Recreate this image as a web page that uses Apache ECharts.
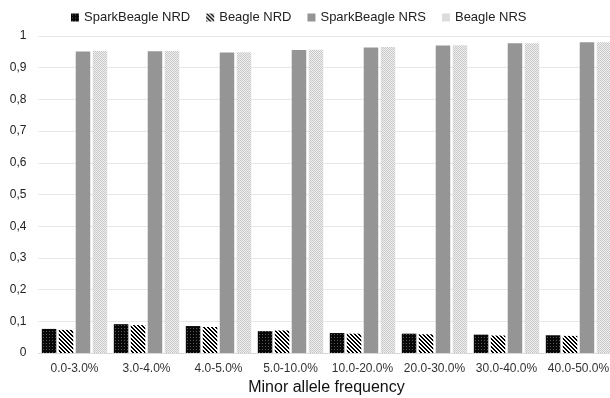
<!DOCTYPE html>
<html><head><meta charset="utf-8">
<script src="https://cdn.jsdelivr.net/npm/echarts@6/dist/echarts.min.js"></script>
<style>html,body{margin:0;padding:0;background:#fff;overflow:hidden}#c{width:610px;height:398px}</style>
</head><body><div id="c"></div>
<script>
const categories = ['0.0-3.0%','3.0-4.0%','4.0-5.0%','5.0-10.0%','10.0-20.0%','20.0-30.0%','30.0-40.0%','40.0-50.0%'];
const sparkNRD = [0.076, 0.091, 0.085, 0.069, 0.063, 0.061, 0.058, 0.056];
const beagleNRD = [0.073, 0.088, 0.082, 0.071, 0.061, 0.059, 0.055, 0.054];
const sparkNRS = [0.951, 0.952, 0.948, 0.956, 0.964, 0.970, 0.977, 0.980];
const beagleNRS = [0.953, 0.953, 0.949, 0.957, 0.965, 0.971, 0.977, 0.980];
const seriesNames = ['SparkBeagle NRD','Beagle NRD','SparkBeagle NRS','Beagle NRS'];

function pat(w, h, fn) {
  const c = document.createElement('canvas'); c.width = w; c.height = h;
  const ctx = c.getContext('2d');
  for (let y = 0; y < h; y++) for (let x = 0; x < w; x++) {
    ctx.fillStyle = fn(x, y); ctx.fillRect(x, y, 1, 1);
  }
  return {image: c, repeat: 'repeat'};
}
const pDark = pat(3, 3, (x, y) => (x === 1 && y === 1) ? '#5a5a5a' : '#080808');
const pHatch = pat(4, 4, (x, y) => (((x - y) % 4 + 4) % 4 < 2) ? '#000' : '#fff');
const pLight = pat(2, 2, (x, y) => ((x + y) % 2 === 0) ? '#c8c8c8' : '#f0f0f0');

const chart = echarts.init(document.getElementById('c'));
const font = 'Liberation Sans, Arial, sans-serif';
function mk(name, data, color) {
  return {name, type: 'bar', data, barWidth: 14.5, barGap: '17%', itemStyle: {color}};
}
chart.setOption({
  animation: false,
  legend: {top: 6, left: 66, itemWidth: 8, itemHeight: 8, itemGap: 16,
    textStyle: {fontSize: 13, color: '#222', fontFamily: font},
    data: seriesNames.map(n => ({name: n, icon: 'rect'}))},
  grid: {left: 38.5, width: 576, top: 36, bottom: 45, containLabel: false, outerBoundsMode: 'none'},
  xAxis: {type: 'category', data: categories,
    name: 'Minor allele frequency', nameLocation: 'middle', nameGap: 26,
    nameTextStyle: {fontSize: 16, color: '#111', fontFamily: font},
    axisLine: {lineStyle: {color: '#d9d9d9'}}, axisTick: {show: false},
    axisLabel: {interval: 0, fontSize: 12, color: '#333', fontFamily: font, margin: 10}},
  yAxis: {type: 'value', min: 0, max: 1, interval: 0.1,
    axisLine: {show: false}, axisTick: {show: false},
    splitLine: {lineStyle: {color: '#e6e6e6'}},
    axisLabel: {fontSize: 12, color: '#222', fontFamily: font, margin: 12,
      formatter: v => String(Math.round(v * 10) / 10).replace('.', ',')}},
  series: [
    mk(seriesNames[0], sparkNRD, pDark),
    mk(seriesNames[1], beagleNRD, pHatch),
    mk(seriesNames[2], sparkNRS, '#959595'),
    mk(seriesNames[3], beagleNRS, pLight)
  ]
});
</script></body></html>
